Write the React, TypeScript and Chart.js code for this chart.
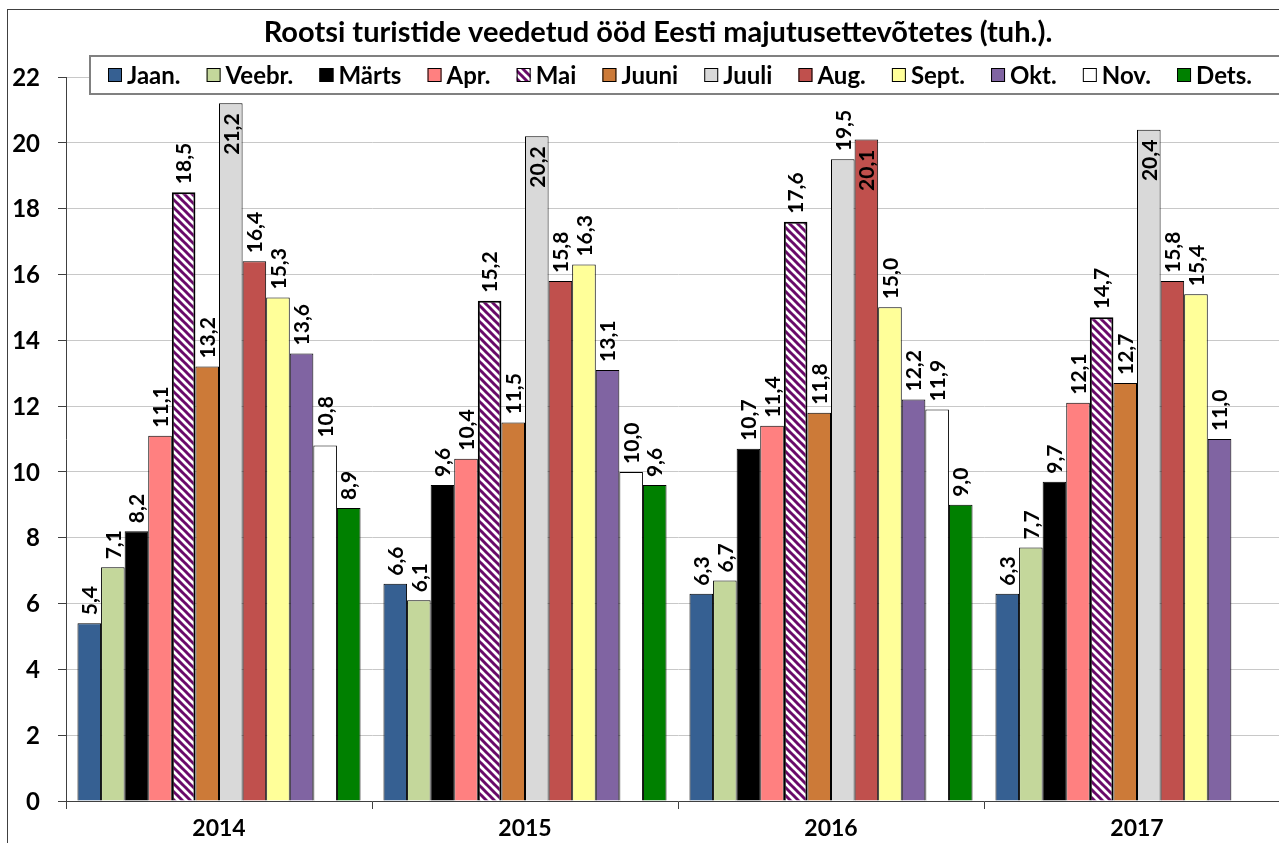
import React, { useEffect, useRef } from 'react';
import { Chart, registerables } from 'chart.js';

Chart.register(...registerables);

const TITLE = 'Rootsi turistide veedetud ööd Eesti majutusettevõtetes (tuh.).';
const years = ['2014', '2015', '2016', '2017'];
const monthNames = ['Jaan.', 'Veebr.', 'Märts', 'Apr.', 'Mai', 'Juuni', 'Juuli', 'Aug.', 'Sept.', 'Okt.', 'Nov.', 'Dets.'];

const jaan = [5.4, 6.6, 6.3, 6.3];
const veebr = [7.1, 6.1, 6.7, 7.7];
const marts = [8.2, 9.6, 10.7, 9.7];
const apr = [11.1, 10.4, 11.4, 12.1];
const mai = [18.5, 15.2, 17.6, 14.7];
const juuni = [13.2, 11.5, 11.8, 12.7];
const juuli = [21.2, 20.2, 19.5, 20.4];
const aug = [16.4, 15.8, 20.1, 15.8];
const sept = [15.3, 16.3, 15.0, 15.4];
const okt = [13.6, 13.1, 12.2, 11.0];
const nov = [10.8, 10.0, 11.9, null];
const dets = [8.9, 9.6, 9.0, null];

const Y_MIN = 0;
const Y_MAX = 22;
const Y_STEP = 2;

const seriesValues = [jaan, veebr, marts, apr, mai, juuni, juuli, aug, sept, okt, nov, dets];
const seriesColors = ['#366092', '#c4d79b', '#000000', '#ff8080', 'PATTERN', '#cc7a38', '#d9d9d9', '#c0504d', '#ffff99', '#8064a2', '#ffffff', '#008000'];

const FONT = 'Lato, "Open Sans", sans-serif';

function makeStripePattern(ctx: CanvasRenderingContext2D) {
  const c = document.createElement('canvas');
  c.width = 8;
  c.height = 8;
  const p = c.getContext('2d')!;
  p.fillStyle = '#ffffff';
  p.fillRect(0, 0, 8, 8);
  p.strokeStyle = '#6a0a6a';
  p.lineWidth = 3;
  for (const o of [-8, 0, 8]) {
    p.beginPath();
    p.moveTo(o - 1, -1);
    p.lineTo(o + 9, 9);
    p.stroke();
  }
  return ctx.createPattern(c, 'repeat')!;
}

export default function App() {
  const ref = useRef<HTMLCanvasElement | null>(null);

  useEffect(() => {
    const canvas = ref.current!;
    const ctx0 = canvas.getContext('2d')!;
    const pattern = makeStripePattern(ctx0);
    const fills = seriesColors.map((c) => (c === 'PATTERN' ? pattern : c));

    const LEGEND_TOP = 46;
    const LEGEND_H = 38;
    const Y_LABEL_RIGHT = 32;

    const overlayPlugin = {
      id: 'overlay',
      afterDatasetsDraw(chart: any) {
        const ctx = chart.ctx as CanvasRenderingContext2D;
        ctx.save();
        ctx.font = `bold 21px ${FONT}`;
        ctx.fillStyle = '#000';
        ctx.textAlign = 'left';
        ctx.textBaseline = 'middle';
        chart.data.datasets.forEach((ds: any, di: number) => {
          const meta = chart.getDatasetMeta(di);
          meta.data.forEach((el: any, i: number) => {
            const v = ds.data[i];
            if (v === null || v === undefined) return;
            const txt = v.toFixed(1).replace('.', ',');
            const w = ctx.measureText(txt).width;
            let start = el.y - 8;
            if (start - w < LEGEND_TOP + LEGEND_H + 2) {
              start = el.y + 10 + w;
            }
            ctx.save();
            ctx.translate(el.x + 1, start);
            ctx.rotate(-Math.PI / 2);
            ctx.fillText(txt, 0, 0);
            ctx.restore();
          });
        });
        ctx.restore();
      },
      afterDraw(chart: any) {
        const ctx = chart.ctx as CanvasRenderingContext2D;
        ctx.save();
        // y-axis tick labels, right aligned
        const ys = chart.scales.y;
        ctx.font = `bold 24px ${FONT}`;
        ctx.fillStyle = '#000';
        ctx.textAlign = 'right';
        ctx.textBaseline = 'middle';
        ys.ticks.forEach((t: any) => {
          ctx.fillText(String(t.value), Y_LABEL_RIGHT, ys.getPixelForValue(t.value) + 1);
        });
        // title
        ctx.font = `bold 29px ${FONT}`;
        ctx.textAlign = 'center';
        ctx.fillText(TITLE, chart.width / 2, 23);
        // legend box
        const bx = 82;
        ctx.fillStyle = '#ffffff';
        ctx.fillRect(bx, LEGEND_TOP, chart.width - bx + 10, LEGEND_H);
        ctx.strokeStyle = '#808080';
        ctx.lineWidth = 2;
        ctx.strokeRect(bx, LEGEND_TOP, chart.width - bx + 10, LEGEND_H);
        ctx.font = `bold 24px ${FONT}`;
        const widths = monthNames.map((n) => ctx.measureText(n).width);
        const sw = 14;
        const sg = 5;
        const startX = 100;
        const endX = 1244;
        const total = widths.reduce((a, w) => a + sw + sg + w, 0);
        const gap = (endX - startX - total) / (monthNames.length - 1);
        const cy = LEGEND_TOP + LEGEND_H / 2;
        let x = startX;
        monthNames.forEach((n, i) => {
          ctx.fillStyle = fills[i] as any;
          ctx.fillRect(x, cy - 7, sw, sw);
          ctx.strokeStyle = '#000';
          ctx.lineWidth = 1;
          ctx.strokeRect(x + 0.5, cy - 6.5, sw - 1, sw - 1);
          ctx.fillStyle = '#000';
          ctx.textAlign = 'left';
          ctx.textBaseline = 'middle';
          ctx.fillText(n, x + sw + sg, cy + 1);
          x += sw + sg + widths[i] + gap;
        });
        ctx.restore();
      },
    };

    const chart = new Chart(canvas, {
      type: 'bar',
      data: {
        labels: years,
        datasets: seriesValues.map((vals, i) => ({
          label: monthNames[i],
          data: vals as any,
          backgroundColor: fills[i] as any,
          borderColor: '#000000',
          borderWidth: i === 4 ? 2 : 1,
          categoryPercentage: 0.925,
          barPercentage: 1.0,
        })),
      },
      options: {
        animation: false,
        responsive: false,
        maintainAspectRatio: false,
        layout: { padding: { top: 67, left: 0, right: 18, bottom: 0 } },
        plugins: {
          legend: { display: false },
          title: { display: false },
          tooltip: { enabled: false },
        },
        scales: {
          x: {
            afterFit: (s: any) => {
              s.height = 44;
            },
            grid: {
              offset: true,
              drawOnChartArea: false,
              drawTicks: true,
              tickLength: 8,
              color: '#404040',
            },
            border: { color: '#404040', width: 1 },
            ticks: {
              color: '#000',
              font: { family: FONT, size: 23, weight: 'bold' },
              padding: 6,
              maxRotation: 0,
            },
          },
          y: {
            min: Y_MIN,
            max: Y_MAX,
            afterFit: (s: any) => {
              s.width = 58;
            },
            ticks: {
              stepSize: Y_STEP,
              display: false,
            },
            grid: {
              color: '#c8c8c8',
              tickColor: '#404040',
              tickLength: 8,
              lineWidth: 1,
            },
            border: { color: '#404040', width: 1 },
          },
        },
      },
      plugins: [overlayPlugin],
    });

    (document as any).fonts?.load?.(`bold 20px Lato`).then(() => chart.update()).catch(() => {});

    return () => chart.destroy();
  }, []);

  return (
    <div style={{ position: 'fixed', inset: 0, overflow: 'hidden', background: '#fff' }}>
      <div
        style={{
          position: 'absolute',
          left: 7,
          top: 9,
          width: 1400,
          height: 900,
          borderLeft: '1px solid #404040',
          borderTop: '1px solid #404040',
        }}
      >
        <canvas ref={ref} width={1300} height={835} style={{ display: 'block', width: 1300, height: 835 }} />
      </div>
    </div>
  );
}
